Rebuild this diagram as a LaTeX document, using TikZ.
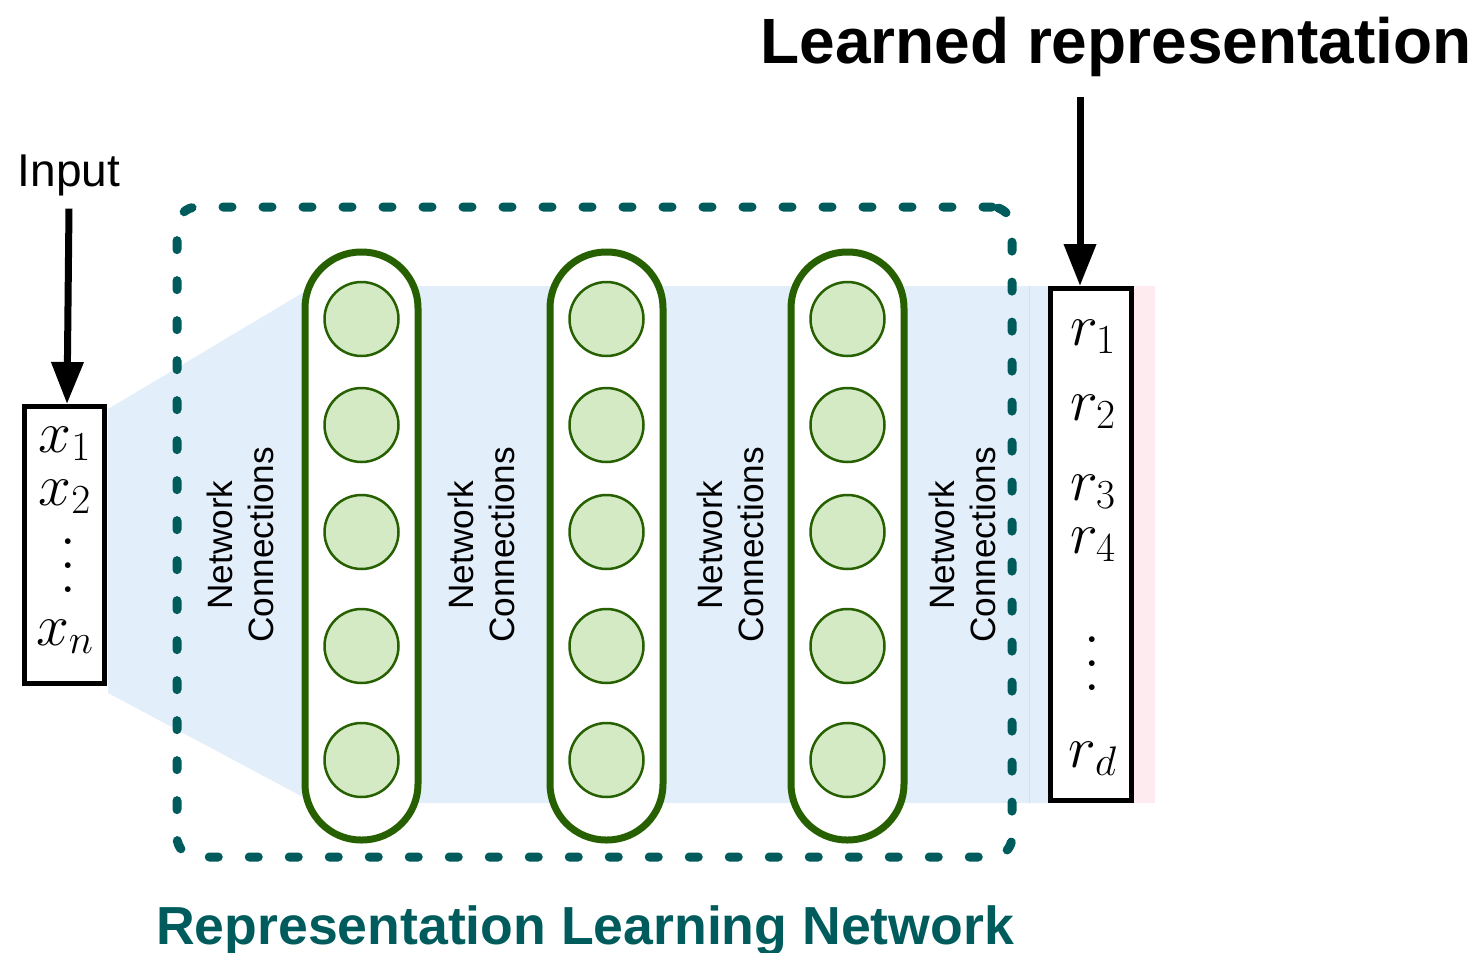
\RequirePackage{fix-cm}
\documentclass[tikz,border=0pt]{standalone}
\usepackage[no-math]{fontspec}
\newfontfamily\labelfont{Liberation Sans}
\usetikzlibrary{arrows.meta,calc}

\definecolor{tealc}{RGB}{0,92,92}
\definecolor{pillgreen}{RGB}{38,96,0}
\definecolor{nodefill}{RGB}{212,234,197}
\definecolor{bandblue}{RGB}{227,238,251}
\definecolor{bandline}{RGB}{206,224,244}
\definecolor{pinkc}{RGB}{253,235,239}

% three widely spaced dots for the vectors
\newcommand\spreadvdots{\vbox{\baselineskip=12pt\lineskiplimit=-100pt\hbox{.}\hbox{.}\hbox{.}}}

\begin{document}
\begin{tikzpicture}[x=0.5pt,y=-0.5pt,
  mathlbl/.style={anchor=base, inner sep=0pt, font=\fontsize{29.5}{35}\selectfont},
  dotlbl/.style={inner sep=0pt, font=\fontsize{35}{40}\selectfont},
  nclabel/.style={rotate=90, align=center, inner sep=0pt,
    font=\labelfont\fontsize{17.6}{20.5}\selectfont},
  unit/.style={circle, draw=pillgreen, fill=nodefill, line width=1.25pt,
    minimum size=37pt, inner sep=0pt},
  layer/.style={draw=pillgreen, fill=white, line width=3.5pt, rounded corners=28pt,
    minimum width=56.5pt, minimum height=294pt, inner sep=0pt},
  vecbox/.style={draw=black, fill=white, line width=2.5pt, inner sep=0pt},
  netframe/.style={draw=tealc, line width=4.5pt, line cap=round,
    dash pattern=on 4.5pt off 15.5pt, rounded corners=10pt, inner sep=0pt},
  bigarrow/.style={line width=3.5pt, -{Triangle[width=15.5pt,length=21pt]}}]

\useasboundingbox (0,0) rectangle (1479,953);

% light band carrying the data through the network
\fill[bandblue] (108,409) -- (361,258) -- (361,286) -- (1048,286) -- (1048,803)
  -- (361,803) -- (361,828) -- (108,693) -- cycle;
\draw[bandline, line width=0.5pt] (1029,286) -- (1029,803);
\fill[pinkc] (1134,286) rectangle (1155,803);

% dashed frame of the network
\node[netframe, minimum width=417.5pt, minimum height=325pt] (frame) at (594.5,532) {};

% input vector
\node[vecbox, minimum width=40pt, minimum height=138.5pt] (xbox) at (64.5,545) {};
\node[mathlbl] (x1) at (65,452) {$x_1$};
\node[mathlbl] (x2) at (65,505) {$x_2$};
\node[dotlbl] (xdots) at (68,566) {\spreadvdots};
\node[mathlbl] (xn) at (65,645) {$x_n$};

% hidden layers
\foreach \lx [count=\li] in {361.5,606.5,847.5} {
  \node[layer] (layer\li) at (\lx,546) {};
  \foreach \uy [count=\ui] in {319,425,532,646,760}
    \node[unit] (u\li\ui) at (\lx,\uy) {};
}

% connection labels
\node[nclabel] (nc1) at (240,545) {Network\\Connections};
\node[nclabel] (nc2) at (481,545) {Network\\Connections};
\node[nclabel] (nc3) at (730,545) {Network\\Connections};
\node[nclabel] (nc4) at (962,545) {Network\\Connections};

% learned representation vector
\node[vecbox, minimum width=40.5pt, minimum height=256pt] (rbox) at (1091,544.5) {};
\node[mathlbl] (r1) at (1093,345) {$r_1$};
\node[mathlbl] (r2) at (1093,420) {$r_2$};
\node[mathlbl] (r3) at (1093,500) {$r_3$};
\node[mathlbl] (r4) at (1093,553) {$r_4$};
\node[dotlbl] (rdots) at (1092,664) {\spreadvdots};
\node[mathlbl] (rd) at (1093,767) {$r_d$};

% captions
\node[anchor=base, inner xsep=0pt, inner ysep=6.3pt,
  font=\labelfont\fontsize{23}{27}\selectfont] (inlabel) at (69,186) {Input};
\node[anchor=base, inner xsep=0pt, inner ysep=10.3pt,
  font=\labelfont\bfseries\fontsize{32}{38}\selectfont] (lrtitle) at (1116,63) {Learned representation};
\node[anchor=base, inner sep=0pt, text=tealc,
  font=\labelfont\bfseries\fontsize{26.8}{31}\selectfont] (netname) at (585,944) {Representation Learning Network};

% arrows
\coordinate (intip) at ($(xbox.north)+(2.5,0)$);
\draw[bigarrow] (inlabel.south) -- (intip);
\coordinate (lrtip) at ($(rbox.north)+(-11,0)$);
\draw[bigarrow] (lrtitle.south -| lrtip) -- (lrtip);

\end{tikzpicture}
\end{document}
